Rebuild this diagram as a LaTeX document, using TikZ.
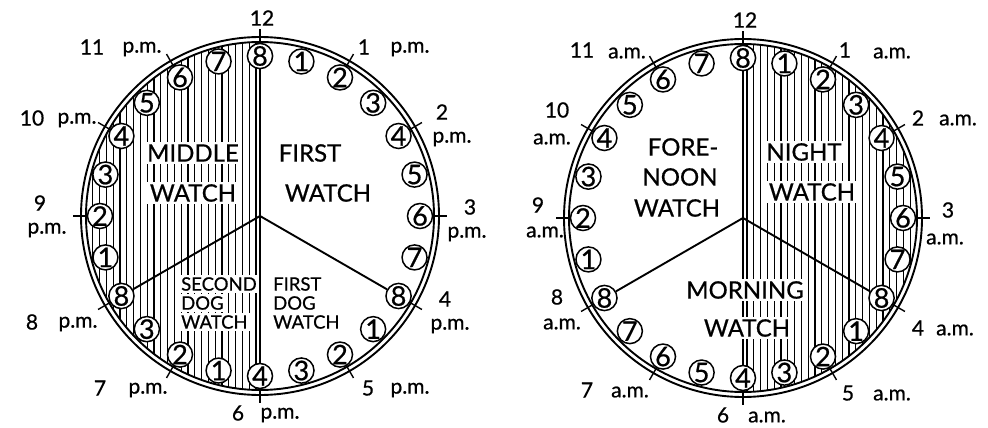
\documentclass[tikz,border=0pt]{standalone}
\usepackage{fontspec}
\setmainfont{Lato}[FakeBold=0.7]
\usetikzlibrary{calc}
\tikzset{
  bell/.style={circle, draw, line width=1.5pt, fill=white, minimum size=25pt, inner sep=0pt, font=\fontsize{27}{27}\selectfont},
  ringline/.style={line width=1.9pt},
  hatchline/.style={line width=1.1pt},
  spoke/.style={line width=1.9pt},
  midline/.style={line width=1.6pt},
  hourtick/.style={line width=1.4pt},
  hourlab/.style={font=\fontsize{21}{21}\selectfont, inner sep=0pt},
  bigboxed/.style={font=\fontsize{24}{24}\selectfont, fill=white, inner sep=2.5pt},
  bigplain/.style={font=\fontsize{24}{24}\selectfont, inner sep=2.5pt},
  smallboxed/.style={font=\fontsize{18.5}{18.5}\selectfont, fill=white, inner sep=2pt, anchor=west},
  smallplain/.style={font=\fontsize{18.5}{18.5}\selectfont, inner sep=2pt, anchor=west},
}
\begin{document}
\begin{tikzpicture}[x=1pt,y=-1pt]
\useasboundingbox (0,0) rectangle (988,428);
\coordinate (Lc) at (260,216);
\coordinate (Rc) at (743,218);

% hatching
\begin{scope}
  \clip (Lc) circle (174pt);
  \clip ($(Lc)+(-190,-190)$) rectangle ($(Lc)+(0,190)$);
  \foreach \i in {0,...,27} \draw[hatchline] ($(Lc)+(-4-\i*6.8,-190)$) -- ++(0,380);
\end{scope}
\begin{scope}
  \clip (Rc) circle (174pt);
  \clip ($(Rc)+(0,-190)$) rectangle ($(Rc)+(190,190)$);
  \foreach \i in {0,...,27} \draw[hatchline] ($(Rc)+(4+\i*6.8,-190)$) -- ++(0,380);
\end{scope}

% rings
\foreach \c in {Lc,Rc} {
  \draw[ringline] (\c) circle (179pt);
  \draw[ringline] (\c) circle (174pt);
  \foreach \h in {0,...,11}
    \draw[hourtick] ($(\c)+({168*sin(30*\h)},{-168*cos(30*\h)})$) -- ($(\c)+({187*sin(30*\h)},{-187*cos(30*\h)})$);
}

% bells
\foreach \k/\n in {0/8,1/1,2/2,3/3,4/4,5/5,6/6,7/7,8/8,9/1,10/2,11/3,12/4,13/1,14/2,15/3,16/8,17/1,18/2,19/3,20/4,21/5,22/6,23/7}
  \node[bell] (L\k) at ($(Lc)+({160*sin(15*\k)},{-160*cos(15*\k)})$) {\n};
\foreach \k/\n in {0/8,1/1,2/2,3/3,4/4,5/5,6/6,7/7,8/8,9/1,10/2,11/3,12/4,13/5,14/6,15/7,16/8,17/1,18/2,19/3,20/4,21/5,22/6,23/7}
  \node[bell] (R\k) at ($(Rc)+({160*sin(15*\k)},{-160*cos(15*\k)})$) {\n};

% dividing lines
\draw[midline] (L0) -- (L12);
\draw[spoke] (Lc) -- (L8);
\draw[spoke] (Lc) -- (L16);
\draw[midline] (R0) -- (R12);
\draw[spoke] (Rc) -- (R8);
\draw[spoke] (Rc) -- (R16);

% watch names, left
\node[bigboxed] (Lmid1) at (193,153) {MIDDLE};
\node[bigboxed] (Lmid2) at (193,193) {WATCH};
\node[bigplain] (Lfw1) at (310,153) {FIRST};
\node[bigplain] (Lfw2) at (328,193) {WATCH};
\node[smallboxed] (Lsd1) at (179,284) {SECOND};
\node[smallboxed] (Lsd2) at (179,303) {DOG};
\node[smallboxed] (Lsd3) at (179,322) {WATCH};
\node[smallplain] (Lfd1) at (271,284) {FIRST};
\node[smallplain] (Lfd2) at (271,303) {DOG};
\node[smallplain] (Lfd3) at (271,322) {WATCH};

% watch names, right
\node[bigplain] (Rfn1) at (683,147) {FORE-};
\node[bigplain] (Rfn2) at (680,177) {NOON};
\node[bigplain] (Rfn3) at (677,208) {WATCH};
\node[bigboxed] (Rnw1) at (804,152) {NIGHT};
\node[bigboxed] (Rnw2) at (812,192) {WATCH};
\node[bigboxed] (Rmw1) at (745,290) {MORNING};
\node[bigboxed] (Rmw2) at (747,328) {WATCH};

% hour labels, left
\node[hourlab] (Lh12) at (262,18) {12};
\node[hourlab] (Lh1) at (364,47) {1};   \node[hourlab] (Lh1s) at (410,49) {p.m.};
\node[hourlab] (Lh2) at (442,112) {2};  \node[hourlab] (Lh2s) at (452,139) {p.m.};
\node[hourlab] (Lh3) at (470,207) {3};  \node[hourlab] (Lh3s) at (467,234) {p.m.};
\node[hourlab] (Lh4) at (445,299) {4};  \node[hourlab] (Lh4s) at (450,326) {p.m.};
\node[hourlab] (Lh5) at (368,388) {5};  \node[hourlab] (Lh5s) at (410,390) {p.m.};
\node[hourlab] (Lh6) at (238,413) {6};  \node[hourlab] (Lh6s) at (280,415) {p.m.};
\node[hourlab] (Lh7) at (100,388) {7};  \node[hourlab] (Lh7s) at (148,390) {p.m.};
\node[hourlab] (Lh8) at (32,322) {8};   \node[hourlab] (Lh8s) at (78,324) {p.m.};
\node[hourlab] (Lh9) at (40,203) {9};   \node[hourlab] (Lh9s) at (47,230) {p.m.};
\node[hourlab] (Lh10) at (32,118) {10}; \node[hourlab] (Lh10s) at (77,120) {p.m.};
\node[hourlab] (Lh11) at (92,47) {11};  \node[hourlab] (Lh11s) at (142,49) {p.m.};

% hour labels, right
\node[hourlab] (Rh12) at (745,20) {12};
\node[hourlab] (Rh1) at (845,50) {1};   \node[hourlab] (Rh1s) at (892,53) {a.m.};
\node[hourlab] (Rh2) at (918,118) {2};  \node[hourlab] (Rh2s) at (958,120) {a.m.};
\node[hourlab] (Rh3) at (948,210) {3};  \node[hourlab] (Rh3s) at (945,239) {a.m.};
\node[hourlab] (Rh4) at (918,328) {4};  \node[hourlab] (Rh4s) at (955,330) {a.m.};
\node[hourlab] (Rh5) at (848,393) {5};  \node[hourlab] (Rh5s) at (892,395) {a.m.};
\node[hourlab] (Rh6) at (723,415) {6};  \node[hourlab] (Rh6s) at (767,417) {a.m.};
\node[hourlab] (Rh7) at (587,390) {7};  \node[hourlab] (Rh7s) at (630,392) {a.m.};
\node[hourlab] (Rh8) at (557,297) {8};  \node[hourlab] (Rh8s) at (562,324) {a.m.};
\node[hourlab] (Rh9) at (538,205) {9};  \node[hourlab] (Rh9s) at (545,232) {a.m.};
\node[hourlab] (Rh10) at (557,110) {10}; \node[hourlab] (Rh10s) at (552,139) {a.m.};
\node[hourlab] (Rh11) at (582,50) {11}; \node[hourlab] (Rh11s) at (627,53) {a.m.};
\end{tikzpicture}
\end{document}
